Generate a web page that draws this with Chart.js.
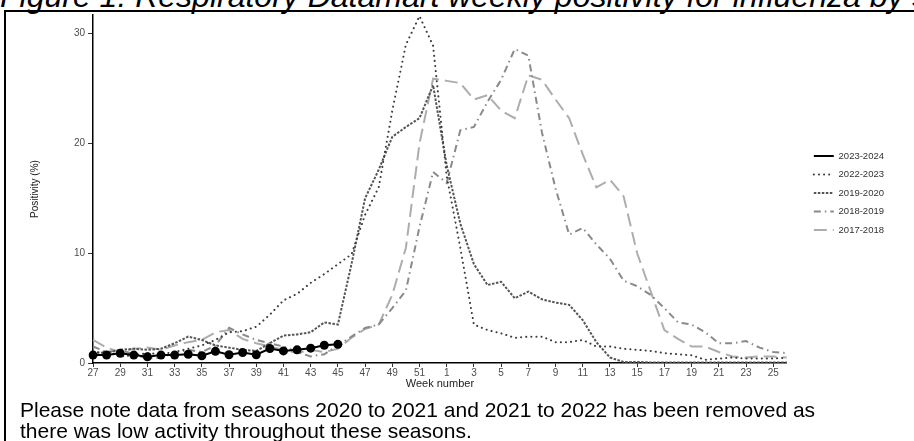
<!DOCTYPE html>
<html>
<head>
<meta charset="utf-8">
<script src="https://cdn.jsdelivr.net/npm/chart.js@4"></script>
<style>
  html, body { margin: 0; padding: 0; background: #fff; }
  body { width: 914px; height: 441px; position: relative; overflow: hidden; font-family: "Liberation Sans", Arial, sans-serif; }
  #fig-title { position: absolute; left: 0; top: -20px; font-size: 32px; line-height: 32px; font-style: italic; white-space: nowrap; color: #000; }
  #frame { position: absolute; left: 4px; top: 10px; width: 1000px; height: 500px; border: 2px solid #000; box-sizing: border-box; }
  #wrap { position: absolute; left: 0; top: 0; width: 914px; height: 441px; }
  #note { position: absolute; left: 20px; top: 399px; font-size: 21px; line-height: 21px; color: #000; white-space: nowrap; }
</style>
</head>
<body>
<div id="fig-title">Figure 1: Respiratory Datamart weekly positivity for influenza by season</div>
<div id="frame"></div>
<div id="wrap"><canvas id="fluChart"></canvas></div>
<div id="note">Please note data from seasons 2020 to 2021 and 2021 to 2022 has been removed as<br>there was low activity throughout these seasons.</div>
<script>
// week 27 of one year to week 26 of the next
const weeks = [27, 28, 29, 30, 31, 32, 33, 34, 35, 36, 37, 38, 39, 40, 41, 42, 43, 44, 45, 46, 47, 48, 49, 50, 51, 52,
               1, 2, 3, 4, 5, 6, 7, 8, 9, 10, 11, 12, 13, 14, 15, 16, 17, 18, 19, 20, 21, 22, 23, 24, 25, 26];

const yTicks = [0, 10, 20, 30];

// positivity (%) per season
const season2023 = [0.72, 0.72, 0.88, 0.72, 0.57, 0.72, 0.72, 0.80, 0.66, 1.06, 0.75, 0.96, 0.75, 1.32, 1.10, 1.20, 1.35, 1.62, 1.70];

const season2022 = [0.9, 1.0, 0.6, 0.7, 0.9, 0.8, 1.0, 1.3, 1.6, 2.1, 2.8, 2.9, 3.3, 4.4, 5.7, 6.3, 7.3, 8.1, 9.0, 9.9, 13.5, 16.0, 23.0, 29.0, 31.6, 28.9,
                    17.0, 10.5, 3.5, 3.0, 2.7, 2.3, 2.4, 2.4, 1.9, 1.9, 2.1, 1.5, 1.5, 1.3, 1.2, 1.1, 0.9, 0.8, 0.7, 0.3, 0.4, 0.5, 0.4, 0.4, 0.4, 0.5];

const season2019 = [1.0, 0.9, 1.2, 1.3, 1.2, 1.3, 1.8, 2.4, 2.1, 1.6, 1.4, 1.2, 1.1, 1.8, 2.5, 2.6, 2.8, 3.7, 3.5, 9.0, 15.0, 17.6, 20.6, 21.5, 22.3, 25.3,
                    18.0, 12.7, 9.0, 7.1, 7.4, 5.9, 6.5, 5.8, 5.5, 5.3, 3.9, 1.9, 0.5, 0.1, 0.1, 0.05, 0.05, 0.05, 0.05, 0.05, 0.05, 0.05, 0.05, 0.05, 0.05, 0.05];

const season2018 = [1.5, 1.0, 1.2, 0.8, 0.4, 0.5, 0.9, 1.2, 1.0, 1.6, 3.2, 2.6, 2.1, 1.8, 1.5, 1.0, 0.6, 0.8, 1.6, 2.4, 3.2, 3.5, 5.0, 6.6, 12.4, 17.4,
                    16.4, 21.2, 21.5, 23.8, 25.8, 28.6, 28.0, 21.0, 15.9, 11.7, 12.3, 10.8, 9.5, 7.5, 7.0, 6.2, 5.0, 3.7, 3.5, 2.8, 1.8, 1.8, 2.0, 1.4, 1.0, 0.9];

const season2017 = [2.1, 1.4, 1.0, 1.3, 1.4, 1.2, 1.6, 1.9, 2.1, 2.8, 3.0, 2.2, 1.8, 1.5, 1.2, 0.9, 1.2, 1.0, 1.3, 2.3, 3.1, 3.5, 6.2, 10.5, 20.0, 25.9,
                    25.7, 25.5, 24.0, 24.4, 23.0, 22.3, 26.2, 25.8, 24.0, 22.3, 19.0, 16.0, 16.7, 15.2, 10.0, 6.5, 3.0, 2.2, 1.5, 1.5, 1.0, 0.6, 0.5, 0.6, 0.6, 0.5];

const tickGrey = '#4d4d4d';

const ctx = document.getElementById('fluChart').getContext('2d');
new Chart(ctx, {
    type: 'line',
    data: {
        labels: weeks,
        datasets: [
            {
                label: '2023-2024',
                data: season2023,
                borderColor: '#000000',
                backgroundColor: '#000000',
                borderWidth: 2,
                pointRadius: 4.5,
                pointBorderWidth: 0,
                pointHoverRadius: 4.5
            },
            {
                label: '2022-2023',
                data: season2022,
                borderColor: '#3a3a3a',
                borderWidth: 2,
                borderDash: [0.1, 5],
                borderCapStyle: 'round',
                pointRadius: 0
            },
            {
                label: '2019-2020',
                data: season2019,
                borderColor: '#555555',
                borderWidth: 2,
                borderDash: [2.5, 1.5],
                pointRadius: 0
            },
            {
                label: '2018-2019',
                data: season2018,
                borderColor: '#8a8a8a',
                borderWidth: 2,
                borderDash: [7, 4, 1.5, 4],
                pointRadius: 0
            },
            {
                label: '2017-2018',
                data: season2017,
                borderColor: '#adadad',
                borderWidth: 2,
                borderDash: [13, 6],
                pointRadius: 0
            }
        ]
    },
    options: {
        responsive: true,
        maintainAspectRatio: false,
        animation: false,
        layout: { padding: { left: 25, top: 15, bottom: 46, right: 20 } },
        plugins: {
            tooltip: { enabled: false },
            legend: {
                position: 'right',
                fullSize: false,
                // empty title only nudges the entries down a little
                title: { display: true, text: '', font: { size: 1 }, padding: { top: 0, bottom: 7 } },
                labels: {
                    usePointStyle: true,
                    pointStyleWidth: 20,
                    padding: 9,
                    color: '#333',
                    font: { family: 'Liberation Sans', size: 9.5 },
                    generateLabels: chart => chart.data.datasets.map((ds, i) => ({
                        text: ds.label,
                        strokeStyle: ds.borderColor,
                        fillStyle: ds.borderColor,
                        lineWidth: 2,
                        lineDash: ds.borderDash || [],
                        lineCap: ds.borderCapStyle || 'butt',
                        pointStyle: 'line',
                        fontColor: '#333',
                        hidden: false,
                        datasetIndex: i
                    }))
                }
            }
        },
        scales: {
            x: {
                grid: { drawOnChartArea: false, drawTicks: true, tickLength: 4, color: '#333' },
                border: { display: true, color: '#000', width: 1.5 },
                ticks: {
                    autoSkip: false,
                    maxRotation: 0,
                    padding: 0,
                    color: tickGrey,
                    font: { family: 'Liberation Sans', size: 10 },
                    callback: (val, i) => (i % 2 === 0 ? String(weeks[i]) : null)
                },
                title: { display: true, text: 'Week number', color: '#222', padding: { top: 0, bottom: 4 }, font: { family: 'Liberation Sans', size: 11 } },
                afterFit: scale => { scale.height = 32; }
            },
            y: {
                min: 0,
                max: 31.7,
                grid: { drawOnChartArea: false, drawTicks: true, tickLength: 5, color: '#333' },
                border: { display: true, color: '#000', width: 1.5 },
                afterBuildTicks: scale => { scale.ticks = yTicks.map(v => ({ value: v })); },
                ticks: {
                    padding: 3,
                    color: tickGrey,
                    font: { family: 'Liberation Sans', size: 10 }
                },
                title: { display: true, text: 'Positivity (%)', color: '#222', padding: { top: 4, bottom: 0 }, font: { family: 'Liberation Sans', size: 10 } },
                afterFit: scale => { scale.width = 68; }
            },
            spacer: {
                position: 'right',
                display: true,
                grid: { display: false },
                border: { display: false },
                ticks: { display: false },
                afterFit: scale => { scale.width = 18; }
            }
        }
    }
});
</script>
</body>
</html>
